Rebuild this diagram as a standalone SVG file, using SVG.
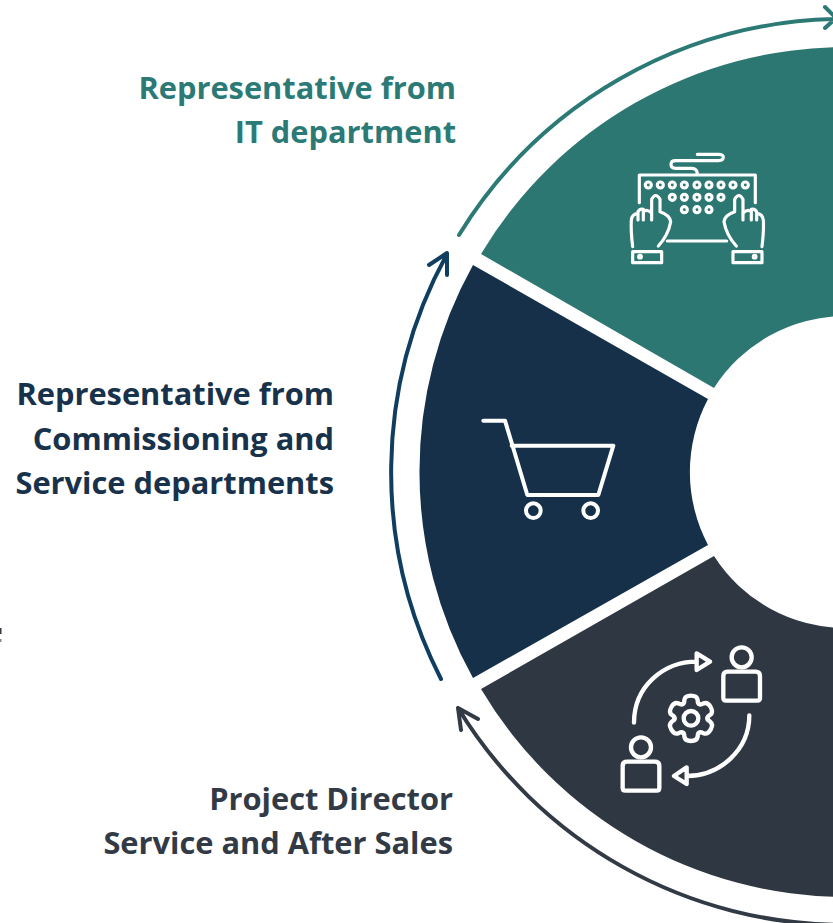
<svg xmlns="http://www.w3.org/2000/svg" width="833" height="923" viewBox="0 0 833 923">
<style>
.t{font-family:"Open Sans","Liberation Sans",sans-serif;font-weight:700;font-size:30.8px;text-anchor:end}
.i{fill:none;stroke:#fff;stroke-linecap:round;stroke-linejoin:round}
.arc{fill:none;stroke-width:4;stroke-linecap:round;stroke-linejoin:round}
</style>
<defs>
<path id="tooth" d="M-25,-43 Q-20,-43 -20,-55 Q-18,-68 0,-68 Q18,-68 20,-55 Q20,-43 25,-43"/>
<g id="hand"><path d="M68,320 Q62,270 64,240 Q66,222 84,220 M84,240 L84,215 Q90,205 100,208 L100,240 M100,215 Q112,205 125,220 L125,240 M125,225 L125,178 Q137,155 150,178 L150,215 Q180,225 182,245 Q175,285 145,318"/><path d="M68,335 H155 V368 H68 Z"/><circle cx="90" cy="350" r="4"/></g>
<g id="person"><circle cx="0" cy="0" r="30"/><path d="M-42,43 H42 Q55,43 55,56 V122 Q55,130 47,130 H-47 Q-55,130 -55,122 V56 Q-55,43 -42,43 Z"/></g>
</defs>
<g id="connectors">
<path class="arc" stroke="#2c7a76" d="M459,235 A453,453 0 0 1 836,19 M825,7 L836,18 L825,28"/>
<path class="arc" stroke="#0f3e60" d="M441,679 A454,454 0 0 1 447,254 M429,265 L447,253 L447,275"/>
<path class="arc" stroke="#323a45" d="M845,925 A453,453 0 0 1 458,708 M478,719 L458,708 L461,730"/>
</g>
<g id="node-it">
<path fill="#2d7773" d="M481,254 A425,425 0 0 1 845,47 L845,316 A156,156 0 0 0 714,388 Z"/>
<g class="i" stroke-width="9.5" transform="translate(610 140) scale(.3333)">
<path d="M88,188 V105 H436 V188 M262,103 Q262,85 245,85 H197 Q183,85 183,73 Q183,62 197,62 H325 Q340,62 340,52 Q340,43 325,43 H262 M172,303 H350"/>
<g><circle cx="115" cy="135" r="9"/><circle cx="151" cy="135" r="9"/><circle cx="187" cy="135" r="9"/><circle cx="223" cy="135" r="9"/><circle cx="261" cy="135" r="9"/><circle cx="297" cy="135" r="9"/><circle cx="333" cy="135" r="9"/><circle cx="369" cy="135" r="9"/><circle cx="406" cy="135" r="9"/><circle cx="187" cy="172" r="9"/><circle cx="223" cy="172" r="9"/><circle cx="261" cy="172" r="9"/><circle cx="297" cy="172" r="9"/><circle cx="333" cy="172" r="9"/><circle cx="223" cy="209" r="9"/><circle cx="261" cy="209" r="9"/><circle cx="297" cy="209" r="9"/></g>
<use href="#hand"/><use href="#hand" transform="matrix(-1 0 0 1 524 0)"/>
</g>
<text class="t" fill="#2c7a76"><tspan x="456" y="99">Representative from</tspan><tspan x="456" y="143">IT department</tspan></text>
</g>
<g id="node-commissioning">
<path fill="#16304a" d="M473,265 A425,425 0 0 0 473,678 L708,545 A156,156 0 0 1 708,399 Z"/>
<g class="i" stroke-width="12" transform="translate(470 400) scale(.3333)">
<path d="M40,62 H105 L172,285 H385 L430,137 H125"/><circle cx="190" cy="332" r="22"/><circle cx="362" cy="332" r="22"/>
</g>
<text class="t" fill="#17324a"><tspan x="334" y="405">Representative from</tspan><tspan x="334" y="450">Commissioning and</tspan><tspan x="334" y="494">Service departments</tspan></text>
</g>
<g id="node-director">
<path fill="#2f3842" d="M481,689 A425,425 0 0 0 845,897 L845,628 A156,156 0 0 1 714,556 Z"/>
<g class="i" stroke-width="13" transform="translate(600 630) scale(.3333)">
<use href="#person" transform="translate(425 82)"/><use href="#person" transform="translate(123 352)"/>
<path d="M102,278 C102,170 190,95 290,95 M290,70 L330,95 L290,120 Z M448,256 C448,360 360,438 260,438 M260,412 L222,438 L260,462 Z"/>
<g transform="translate(273 265)"><circle r="22"/><use href="#tooth"/><use href="#tooth" transform="rotate(60)"/><use href="#tooth" transform="rotate(120)"/><use href="#tooth" transform="rotate(180)"/><use href="#tooth" transform="rotate(240)"/><use href="#tooth" transform="rotate(300)"/></g>
</g>
<text class="t" fill="#323a45"><tspan x="453" y="810">Project Director</tspan><tspan x="453" y="854">Service and After Sales</tspan></text>
</g>
<rect x="0" y="628" width="1.5" height="6" fill="#323a45"/><rect x="0" y="639" width="1.5" height="3" fill="#323a45" opacity=".6"/>
</svg>
